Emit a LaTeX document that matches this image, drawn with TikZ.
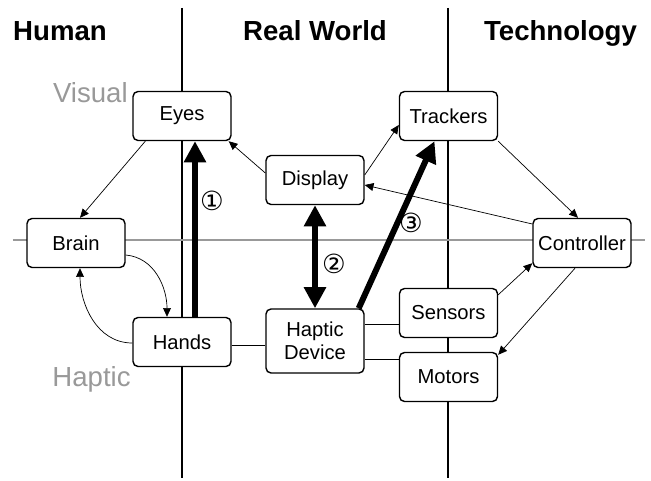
\documentclass[tikz,border=0pt]{standalone}
\usepackage{fontspec}
\setmainfont{Liberation Sans}
\newfontfamily\circfont{DejaVu Sans}
\usetikzlibrary{arrows.meta}

\begin{document}
\begin{tikzpicture}
\tikzstyle{every node}=[font=\fontsize{11.5}{13}\selectfont]
\tikzstyle{block}=[draw, line width=0.8pt, rounded corners=0.1cm, fill=white, minimum width=1.96cm, minimum height=0.98cm, inner sep=0pt, align=center]
\tikzstyle{flow}=[line width=0.4pt, -{Triangle[length=5pt,width=4.5pt]}]
\tikzstyle{link}=[line width=0.4pt]
\tikzstyle{bigflow}=[line width=3.4pt, -{Triangle[length=12pt,width=12pt]}]
\tikzstyle{bigboth}=[line width=3.4pt, {Triangle[length=12pt,width=12pt]}-{Triangle[length=12pt,width=12pt]}]
\tikzstyle{heading}=[font=\bfseries\fontsize{15.7}{18}\selectfont, anchor=base]
\tikzstyle{sense}=[text=black!40, font=\fontsize{15.7}{18}\selectfont, anchor=base east, inner sep=0pt]
\tikzstyle{stepno}=[font=\circfont\fontsize{15}{17}\selectfont, inner sep=0pt]

\useasboundingbox (0,0) rectangle (13.02,-9.62);

\draw[line width=0.8pt] (3.64,-0.16) -- (3.64,-9.56);
\draw[line width=0.8pt] (8.96,-0.16) -- (8.96,-9.56);
\draw[black!40, line width=0.6pt] (0.26,-4.80) -- (12.90,-4.80);

\node[heading] (human) at (1.20,-0.82) {Human};
\node[heading] (world) at (6.30,-0.82) {Real World};
\node[heading] (tech) at (11.21,-0.82) {Technology};

\node[sense] (visual) at (2.56,-2.06) {Visual};
\node[sense] (haptic) at (2.62,-7.74) {Haptic};

\node[block] (eyes) at (3.64,-2.32) {Eyes};
\node[block] (display) at (6.30,-3.60) {Display};
\node[block] (trackers) at (8.97,-2.32) {Trackers};
\node[block] (brain) at (1.52,-4.86) {Brain};
\node[block] (controller) at (11.64,-4.86) {Controller};
\node[block] (hands) at (3.64,-6.84) {Hands};
\node[block, minimum height=1.28cm] (device) at (6.30,-6.82) {Haptic\\Device};
\node[block] (sensors) at (8.97,-6.26) {Sensors};
\node[block] (motors) at (8.97,-7.54) {Motors};

\draw[flow] ([xshift=0.26cm]eyes.south west) -- ([xshift=0.08cm]brain.north);
\draw[flow] ([yshift=0.14cm]display.west) -- ([xshift=-0.06cm]eyes.south east);
\draw[flow] ([yshift=0.1cm]display.east) -- ([yshift=-0.18cm]trackers.west);
\draw[flow] (trackers.south east) -- ([xshift=-0.08cm]controller.north);
\draw[flow] ([yshift=0.38cm]controller.west) -- ([yshift=-0.1cm]display.east);
\draw[flow] ([yshift=-0.24cm]brain.east) to[out=-5,in=90] ([xshift=-0.3cm]hands.north);
\draw[flow] ([yshift=-0.02cm]hands.west) to[out=180,in=-90] ([xshift=0.08cm]brain.south);
\draw[flow] ([yshift=-0.14cm]sensors.north east) -- ([yshift=0.1cm]controller.south west);
\draw[flow] ([xshift=-0.14cm]controller.south) -- ([yshift=-0.06cm]motors.north east);

\draw[link] ([yshift=-0.06cm]hands.east) -- ([yshift=-0.06cm]hands.east -| device.west);
\draw[link] ([yshift=-0.22cm]sensors.west) -- ([yshift=-0.22cm]sensors.west -| device.east);
\draw[link] ([yshift=0.36cm]motors.west) -- ([yshift=0.36cm]motors.west -| device.east);

\draw[bigflow] ([xshift=0.26cm]hands.north) -- ([xshift=0.26cm]eyes.south);
\draw[bigboth] (display.south) -- (device.north);
\draw[bigflow] ([xshift=-0.12cm]device.north east) -- ([xshift=-0.28cm]trackers.south);

\node[stepno] (one) at (4.24,-4.02) {①};
\node[stepno] (two) at (6.68,-5.28) {②};
\node[stepno] (three) at (8.22,-4.46) {③};

\end{tikzpicture}
\end{document}
